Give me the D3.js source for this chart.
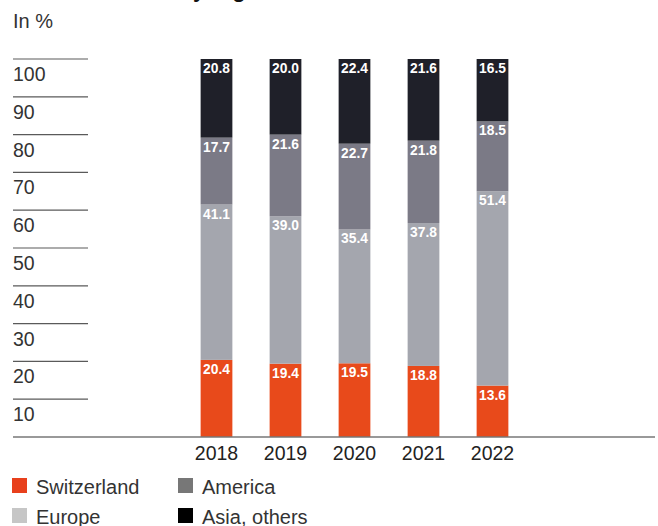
<!DOCTYPE html>
<html>
<head>
<meta charset="utf-8">
<script src="https://cdn.jsdelivr.net/npm/d3@7"></script>
<style>
  html, body { margin: 0; padding: 0; background: #fff; }
  svg { display: block; font-family: "Liberation Sans", Arial, Helvetica, sans-serif; }
</style>
</head>
<body>
<svg id="chart" width="658" height="526"></svg>
<script>
// Sales split by region, in percent
const years = ["2018", "2019", "2020", "2021", "2022"];
const regions = ["Switzerland", "Europe", "America", "Asia, others"];
const switzerland = [20.4, 19.4, 19.5, 18.8, 13.6];
const europe      = [41.1, 39.0, 35.4, 37.8, 51.4];
const america     = [17.7, 21.6, 22.7, 21.8, 18.5];
const asiaOthers  = [20.8, 20.0, 22.4, 21.6, 16.5];
const yTicks = [10, 20, 30, 40, 50, 60, 70, 80, 90, 100];

const barColors    = ["#e84a1b", "#a4a6ae", "#7b7a86", "#1f2029"];
const legendColors = ["#e8401c", "#c6c6c6", "#777777", "#000000"];

const svg = d3.select("#chart");

const rows = years.map((y, i) => ({
  year: y,
  "Switzerland": switzerland[i],
  "Europe": europe[i],
  "America": america[i],
  "Asia, others": asiaOthers[i]
}));
const stacked = d3.stack().keys(regions)(rows);

const y = d3.scaleLinear().domain([0, 100]).range([437, 59]);
const x = d3.scaleBand().domain(years).range([182, 527]).paddingInner(0.54).paddingOuter(0.27);
const color = d3.scaleOrdinal().domain(regions).range(barColors);

// Title (mostly above the visible area)
const title = svg.append("text")
  .attr("y", -3)
  .attr("font-size", 22)
  .attr("font-weight", "bold")
  .attr("fill", "#111")
  .text("Net sales by regions");
const yIdx = "Net sales by regions".indexOf("y");
title.attr("x", 193 - title.node().getSubStringLength(0, yIdx));

svg.append("text")
  .attr("x", 13).attr("y", 28)
  .attr("font-size", 20).attr("fill", "#333")
  .text("In %");

// Y ticks: short rules with labels beneath
const tickG = svg.append("g");
yTicks.forEach(t => {
  tickG.append("line")
    .attr("x1", 13).attr("x2", 88)
    .attr("y1", y(t)).attr("y2", y(t))
    .attr("stroke", "#5a5a5a").attr("stroke-width", 1.2);
  tickG.append("text")
    .attr("x", 13).attr("y", y(t) + 22)
    .attr("font-size", 19.5).attr("fill", "#333")
    .text(t);
});

// Stacked bars
const layer = svg.append("g").selectAll("g").data(stacked).join("g")
  .attr("fill", d => color(d.key));
layer.selectAll("rect").data(d => d).join("rect")
  .attr("x", d => x(d.data.year))
  .attr("width", x.bandwidth())
  .attr("y", d => y(d[1]))
  .attr("height", d => y(d[0]) - y(d[1]));

// Value labels at the top of each segment
svg.append("g").selectAll("g").data(stacked).join("g")
  .selectAll("text").data(d => d.map(v => ({ v, key: d.key }))).join("text")
  .attr("x", d => x(d.v.data.year) + x.bandwidth() / 2)
  .attr("y", d => y(d.v[1]) + 14)
  .attr("text-anchor", "middle")
  .attr("font-size", 13.8).attr("font-weight", "bold").attr("fill", "#fff")
  .text(d => d.v.data[d.key].toFixed(1));

// Baseline
svg.append("line")
  .attr("x1", 13).attr("x2", 655)
  .attr("y1", y(0)).attr("y2", y(0))
  .attr("stroke", "#777").attr("stroke-width", 1.5);

// Year labels
svg.append("g").selectAll("text").data(years).join("text")
  .attr("x", d => x(d) + x.bandwidth() / 2)
  .attr("y", 460)
  .attr("text-anchor", "middle")
  .attr("font-size", 19.5).attr("fill", "#222")
  .text(d => d);

// Legend
const legendPos = [[12, 478], [12, 508], [178, 478], [178, 508]];
const legend = svg.append("g").selectAll("g").data(regions).join("g")
  .attr("transform", (d, i) => `translate(${legendPos[i][0]},${legendPos[i][1]})`);
legend.append("rect")
  .attr("width", 15).attr("height", 15)
  .attr("fill", (d, i) => legendColors[i]);
legend.append("text")
  .attr("x", 24).attr("y", 15.5)
  .attr("font-size", 20).attr("fill", "#333")
  .text(d => d);
</script>
</body>
</html>
